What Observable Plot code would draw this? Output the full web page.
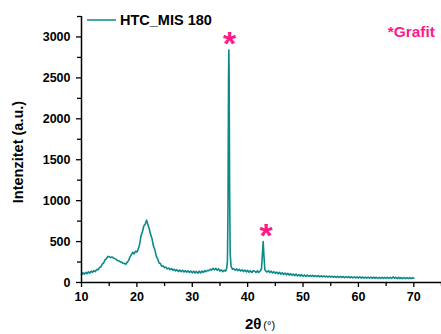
<!DOCTYPE html>
<html><head><meta charset="utf-8">
<script src="https://cdn.jsdelivr.net/npm/d3@7"></script>
<script src="https://cdn.jsdelivr.net/npm/@observablehq/plot@0.6"></script>
<style>body{margin:0;background:#fff;} svg{display:block;}</style>
</head><body><div id="chart"></div>
<script>
const seriesName = "HTC_MIS 180";
const annotation = "*Grafit";
const angles = [
10.0,10.25,10.5,10.75,11.0,11.25,11.5,11.75,12.0,12.25,
12.5,12.75,13.0,13.25,13.5,13.75,14.0,14.25,14.5,14.75,
15.0,15.25,15.5,15.75,16.0,16.25,16.5,16.75,17.0,17.25,
17.5,17.75,18.0,18.25,18.5,18.75,19.0,19.25,19.5,19.75,
20.0,20.25,20.5,20.75,21.0,21.25,21.5,21.75,22.0,22.25,
22.5,22.75,23.0,23.25,23.5,23.75,24.0,24.25,24.5,24.75,
25.0,25.25,25.5,25.75,26.0,26.25,26.5,26.75,27.0,27.25,
27.5,27.75,28.0,28.25,28.5,28.75,29.0,29.25,29.5,29.75,
30.0,30.25,30.5,30.75,31.0,31.25,31.5,31.75,32.0,32.25,
32.5,32.75,33.0,33.25,33.5,33.75,34.0,34.25,34.5,34.75,
35.0,35.25,35.5,35.75,36.0,36.2,36.35,36.45,36.55,36.6,
36.65,36.75,36.85,37.0,37.25,37.5,37.75,38.0,38.25,38.5,
38.75,39.0,39.25,39.5,39.75,40.0,40.25,40.5,40.75,41.0,
41.25,41.5,41.75,42.0,42.25,42.5,42.65,42.8,42.95,43.1,
43.25,43.5,43.75,44.0,44.25,44.5,44.75,45.0,45.25,45.5,
45.75,46.0,46.25,46.5,46.75,47.0,47.25,47.5,47.75,48.0,
48.25,48.5,48.75,49.0,49.25,49.5,49.75,50.0,50.25,50.5,
50.75,51.0,51.25,51.5,51.75,52.0,52.25,52.5,52.75,53.0,
53.25,53.5,53.75,54.0,54.25,54.5,54.75,55.0,55.25,55.5,
55.75,56.0,56.25,56.5,56.75,57.0,57.25,57.5,57.75,58.0,
58.25,58.5,58.75,59.0,59.25,59.5,59.75,60.0,60.25,60.5,
60.75,61.0,61.25,61.5,61.75,62.0,62.25,62.5,62.75,63.0,
63.25,63.5,63.75,64.0,64.25,64.5,64.75,65.0,65.25,65.5,
65.75,66.0,66.25,66.5,66.75,67.0,67.25,67.5,67.75,68.0,
68.25,68.5,68.75,69.0,69.25,69.5,69.75,70.0];
const intensity = [
95,118,102,124,108,130,115,138,124,146,
134,160,156,184,192,225,240,276,292,318,
316,304,312,300,292,282,268,264,252,248,
232,236,222,248,268,310,342,368,350,382,
372,408,468,570,620,690,712,762,706,650,
582,530,442,398,322,290,238,232,198,202,
180,188,166,176,156,170,148,162,142,156,
136,152,132,150,130,146,126,144,122,140,
118,138,116,136,114,138,116,140,122,144,
132,150,144,162,152,172,156,174,150,166,
140,156,132,150,138,170,260,900,2500,2840,
2600,1100,350,200,162,168,150,166,144,160,
140,156,134,152,130,148,126,144,122,142,
140,122,142,122,140,168,330,500,320,158,
142,128,144,122,138,116,132,112,128,106,
124,102,120,98,116,94,112,90,108,88,
104,84,102,80,98,78,96,76,92,74,
90,76,88,74,87,73,85,72,84,70,
82,69,81,68,79,66,78,65,77,64,
76,63,75,62,74,61,73,60,72,59,
71,58,70,57,69,56,68,55,68,55,
67,54,66,53,66,53,65,52,65,52,
64,51,64,51,63,50,63,50,62,49,
62,49,68,52,64,48,62,48,61,47,
61,47,60,47,60,46,59,52];
const xTicks = [10,20,30,40,50,60,70];
const xMinor = [15,25,35,45,55,65,75];
const yTicks = [0,500,1000,1500,2000,2500,3000];
const yMinor = [250,750,1250,1750,2250,2750,3250];
const stars = [{a:36.75, v:2965}, {a:43.35, v:620}];

const data = angles.map((a,i)=>({a, v:intensity[i]}));
const font = "Arial, 'Liberation Sans', sans-serif";
const teal = "#0a8a8a";
const pink = "#ff1a8c";

const plot = Plot.plot({
  width: 441, height: 334,
  marginLeft: 81, marginRight: 0, marginTop: 16, marginBottom: 52,
  style: {fontFamily: font, color: "#000", background: "#fff"},
  x: {domain: [10, 75]},
  y: {domain: [0, 3250]},
  marks: [
    Plot.line(data, {x:"a", y:"v", stroke: teal, strokeWidth: 1.6}),
    Plot.ruleY([0], {stroke:"#000", strokeWidth:1.5}),
    Plot.ruleX([10], {stroke:"#000", strokeWidth:1.5}),
    Plot.axisX({ticks: xTicks, tickSize: 5, tickPadding: 5, fontSize: 12.5, fontWeight: "bold", label: null, strokeWidth: 1.3, tickFormat: d3.format("d")}),
    Plot.axisX({ticks: xMinor, tickSize: 4, tickFormat: () => "", label: null, strokeWidth: 1.3}),
    Plot.axisY({ticks: yTicks, tickSize: 5, tickPadding: 6, fontSize: 12.5, fontWeight: "bold", label: null, strokeWidth: 1.3, tickFormat: d3.format("d")}),
    Plot.axisY({ticks: yMinor, tickSize: 4, tickFormat: () => "", label: null, strokeWidth: 1.3}),
    Plot.text(stars, {x:"a", y:"v", text: () => "*", fill: pink, fontSize: 34, fontWeight: "bold", dy: 4})
  ]
});

const svg = d3.select(plot);
svg.selectAll('g[aria-label$="tick label"]').attr("font-size", 12.5).attr("font-weight", "bold");
// legend
svg.append("line").attr("x1",87).attr("x2",116).attr("y1",20).attr("y2",20).attr("stroke",teal).attr("stroke-width",1.5);
svg.append("text").attr("x",120).attr("y",25).attr("text-anchor","start").attr("font-size",14.5).attr("font-weight","bold").attr("font-family",font).attr("fill","#000").text(seriesName);
svg.append("text").attr("x",435).attr("y",37).attr("text-anchor","end").attr("font-size",15.5).attr("font-weight","bold").attr("font-family",font).attr("fill",pink).text(annotation);
// axis titles
svg.append("text").attr("transform","translate(23,152) rotate(-90)").attr("text-anchor","middle").attr("font-size",14.5).attr("font-weight","bold").attr("font-family",font).attr("fill","#000").text("Intenzitet (a.u.)");
const xl = svg.append("text").attr("x",260).attr("y",329).attr("text-anchor","middle").attr("font-family",font).attr("fill","#000");
xl.append("tspan").attr("font-size",15).attr("font-weight","bold").text("2θ");
xl.append("tspan").attr("font-size",11).attr("dx",2).text("(°)");

document.getElementById("chart").appendChild(plot);
</script></body></html>
